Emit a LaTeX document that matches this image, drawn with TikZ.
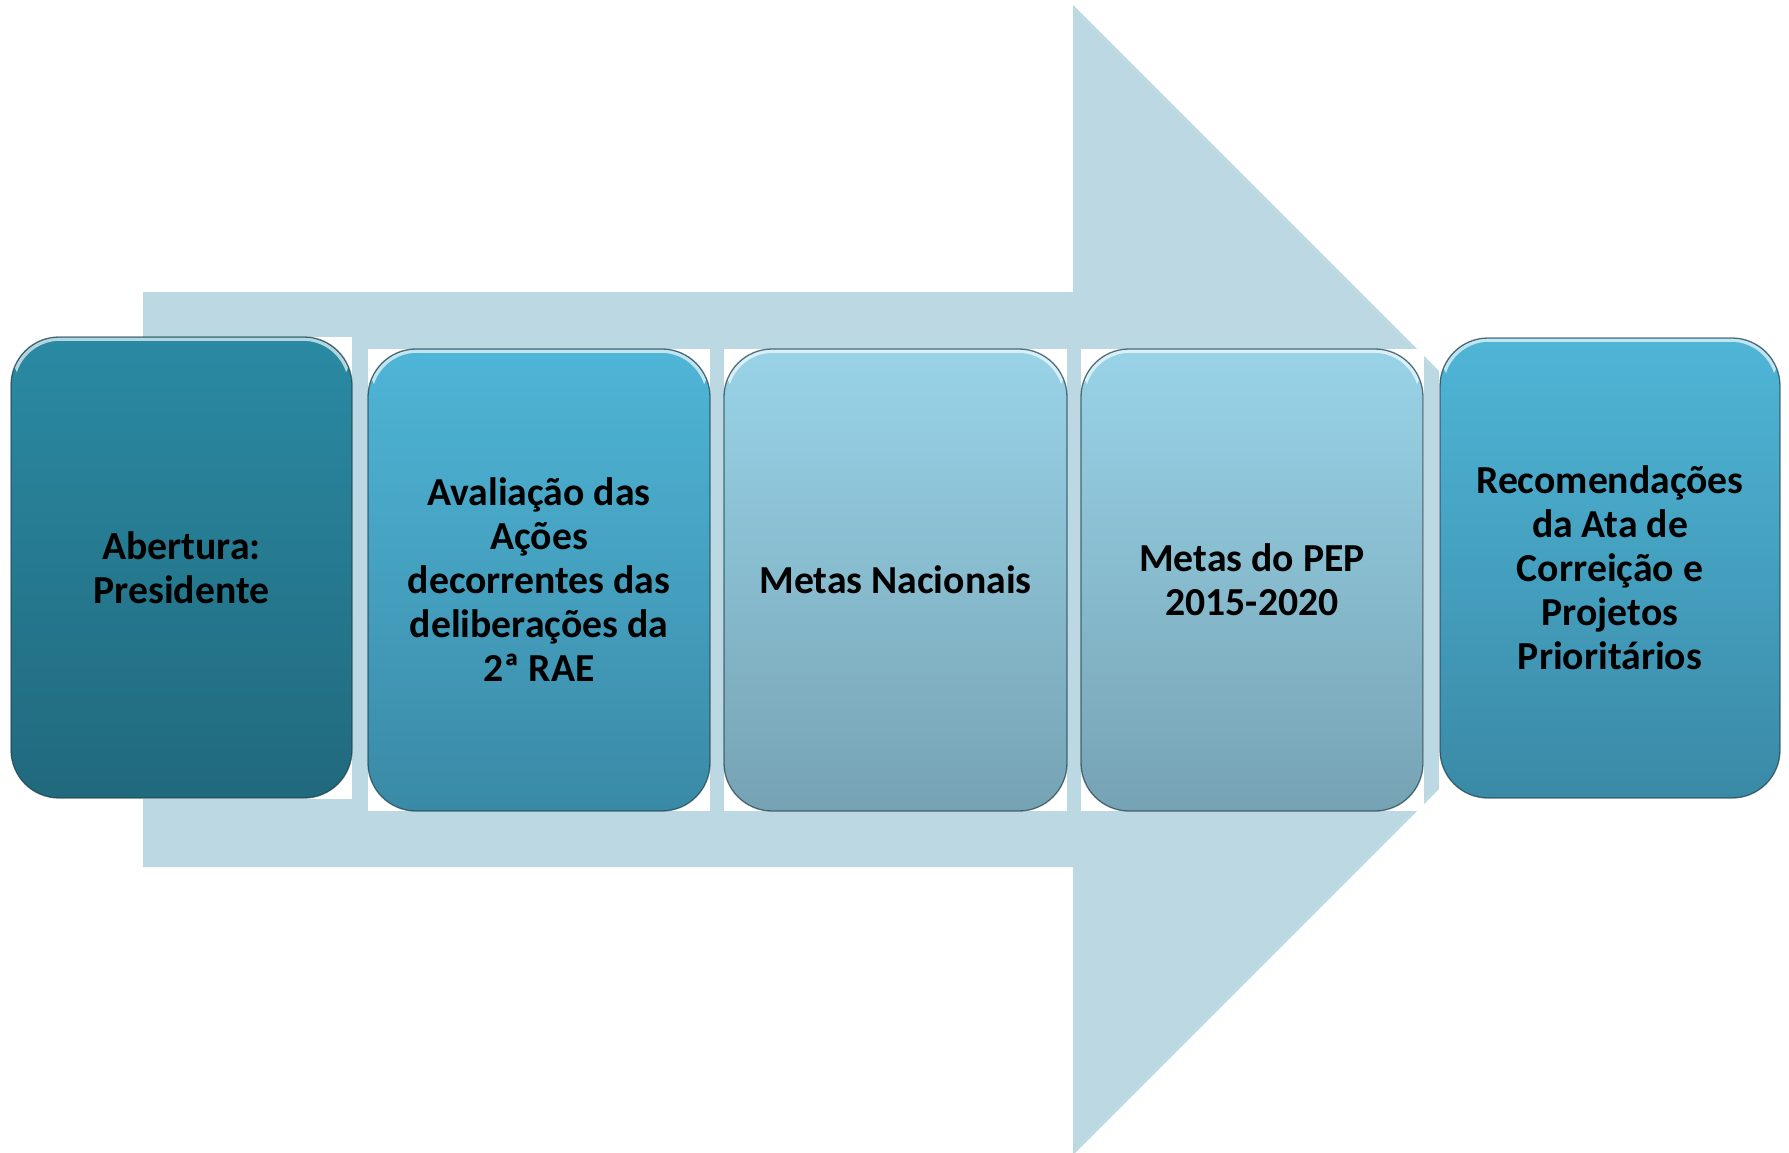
\documentclass[tikz,border=0pt]{standalone}
\usepackage{fontspec}
\newfontfamily\cardfont{Carlito}
\definecolor{arrowc}{HTML}{BCD8E2}
\definecolor{darkT}{HTML}{2A8AA3}
\definecolor{darkB}{HTML}{21697D}
\definecolor{midT}{HTML}{4FB5D7}
\definecolor{midB}{HTML}{3A8AA6}
\definecolor{lightT}{HTML}{99D3E8}
\definecolor{lightB}{HTML}{76A3B4}
\definecolor{rimc}{HTML}{1E3F4C}
\tikzset{
  card/.style={rectangle, rounded corners=48pt, inner sep=0pt, align=center,
    font=\cardfont\bfseries\fontsize{39.7}{44}\selectfont, text=black,
    draw=rimc, draw opacity=.7, line width=1.3pt,
    path picture={
      \begin{scope}
        \clip ([yshift=-60pt]path picture bounding box.north west) rectangle (path picture bounding box.north east);
        \draw[white, opacity=.65, line width=3.5pt, rounded corners=47pt]
          ([xshift=2pt,yshift=-2pt]path picture bounding box.north west) rectangle
          ([xshift=-2pt,yshift=2pt]path picture bounding box.south east);
      \end{scope}
    }},
  darkcard/.style={card, top color=darkT, bottom color=darkB},
  midcard/.style={card, top color=midT, bottom color=midB},
  lightcard/.style={card, top color=lightT, bottom color=lightB},
  backing/.style={fill=white}
}
\begin{document}
\begin{tikzpicture}[x=1pt,y=-1pt]
\useasboundingbox (0,0) rectangle (1789,1152);
% big arrow
\fill[arrowc] (143,292) -- (1073,292) -- (1073,5) -- (1648,580) -- (1073,1155) -- (1073,867) -- (143,867) -- cycle;
% white backings
\fill[backing] (11,337) rectangle (352,799);
\fill[backing] (368,349) rectangle (710,811);
\fill[backing] (724,349) rectangle (1067,811);
\fill[backing] (1081,349) rectangle (1424,811);
\fill[backing] (1439,338) rectangle (1780,799);
% cards
\node[darkcard, minimum width=341pt, minimum height=461pt] (c1) at (181.5,567.5) {Abertura:\\Presidente};
\node[midcard, minimum width=342pt, minimum height=462pt] (c2) at (539,580) {Avaliação das\\Ações\\decorrentes das\\deliberações da\\2ª RAE};
\node[lightcard, minimum width=343pt, minimum height=462pt] (c3) at (895.5,580) {Metas Nacionais};
\node[lightcard, minimum width=342pt, minimum height=462pt] (c4) at (1252,580) {Metas do PEP\\2015-2020};
\node[midcard, minimum width=340pt, minimum height=460pt] (c5) at (1610,568) {Recomendações\\da Ata de\\Correição e\\Projetos\\Prioritários};
\end{tikzpicture}
\end{document}
